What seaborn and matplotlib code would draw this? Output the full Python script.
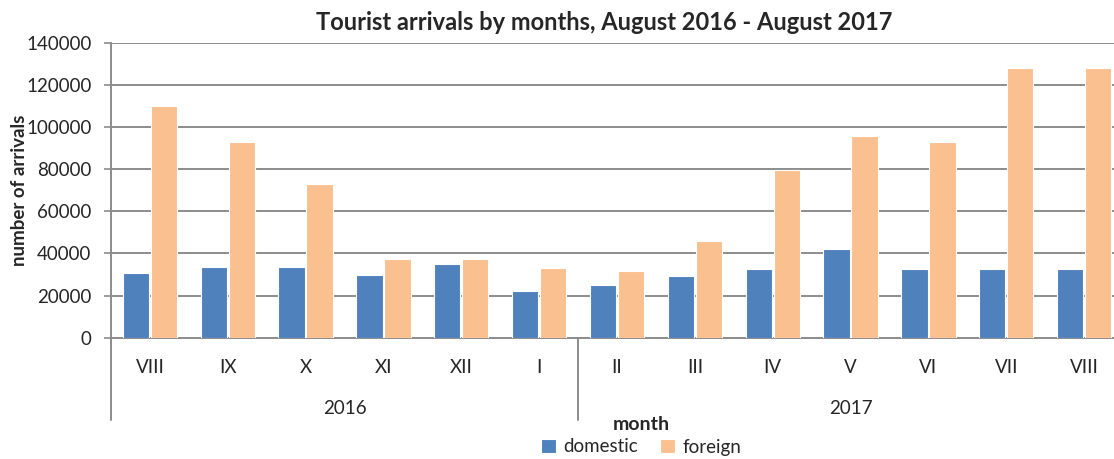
import matplotlib
matplotlib.use("Agg")
import matplotlib.pyplot as plt
import matplotlib.transforms as mtrans
import seaborn as sns
import pandas as pd

months = ["VIII", "IX", "X", "XI", "XII", "I", "II", "III", "IV", "V", "VI", "VII", "VIII"]
years = ["2016", "2016", "2016", "2016", "2016", "2016", "2017", "2017", "2017", "2017", "2017", "2017", "2017"]
domestic = [30500, 33500, 33500, 29700, 35200, 22000, 24800, 29500, 32500, 42000, 32500, 32500, 32500]
foreign = [110000, 93000, 73000, 37200, 37200, 33300, 31500, 45700, 79800, 95800, 93000, 128000, 128000]
series_names = ["domestic", "foreign"]
colors = ["#4F81BD", "#FAC090"]
year_labels = ["2016", "2017"]

keys = [f"{y}-{m}-{i}" for i, (y, m) in enumerate(zip(years, months))]
df = pd.DataFrame({
    "key": keys * 2,
    "series": [series_names[0]] * len(keys) + [series_names[1]] * len(keys),
    "value": domestic + foreign,
})

sns.set_style("white")
plt.rcParams["font.family"] = ["Lato", "DejaVu Sans"]

W, H = 1114, 459
fig = plt.figure(figsize=(W / 100, H / 100), dpi=100)
x0, x1, ytop, ybot = 111, 1123, 42.7, 337.7
ax = fig.add_axes([x0 / W, 1 - ybot / H, (x1 - x0) / W, (ybot - ytop) / H])

sns.barplot(data=df, x="key", y="value", hue="series", order=keys,
            hue_order=series_names, palette=colors, saturation=1, width=0.72, gap=0.06,
            edgecolor="white", linewidth=0.8, ax=ax, legend=True, zorder=3)

ax.set_ylim(0, 140000)
ax.set_yticks(range(0, 140001, 20000))
ax.set_yticklabels([str(v) for v in range(0, 140001, 20000)], fontsize=13.5)
ax.yaxis.grid(True, color="#8c8c8c", linewidth=1.4, zorder=0)
ax.set_axisbelow(True)
ax.tick_params(axis="y", length=5, color="#8c8c8c", width=1.2, pad=9, left=True)
ax.set_xticks(range(len(months)))
ax.set_xticklabels(months, fontsize=13.5)
ax.tick_params(axis="x", length=0, pad=15)
ax.set_xlim(-0.5, len(months) - 0.5)
ax.set_xlabel("")
ax.set_ylabel("number of arrivals", fontsize=13.5, fontweight="bold", labelpad=-1)

for side in ["top", "right"]:
    ax.spines[side].set_visible(False)
for side in ["left", "bottom"]:
    ax.spines[side].set_color("#8c8c8c")
    ax.spines[side].set_linewidth(1.4)

# multi-level category axis lines
trans = mtrans.blended_transform_factory(ax.transData, ax.transAxes)
low = -(420 - ybot) / (ybot - ytop)
ax.plot([-0.5, -0.5], [0, low], transform=trans, color="#8c8c8c", lw=1.4, clip_on=False)
ax.plot([5.5, 5.5], [0, low], transform=trans, color="#8c8c8c", lw=1.4, clip_on=False)
yy = -(408 - ybot) / (ybot - ytop)
ax.text(2.5, yy, year_labels[0], transform=trans, ha="center", va="center", fontsize=13.5)
ax.text(9.0, yy, year_labels[1], transform=trans, ha="center", va="center", fontsize=13.5)

ax.set_title("Tourist arrivals by months, August 2016 - August 2017",
             fontsize=17, fontweight="bold", pad=9, x=(604 - x0) / (x1 - x0))

fig.text(641 / W, 1 - 424 / H, "month", ha="center", va="center",
         fontsize=14, fontweight="bold")

handles, labels = ax.get_legend_handles_labels()
ax.get_legend().remove()
fig.legend(handles, labels, loc="center", bbox_to_anchor=(641 / W, 1 - 447 / H),
           ncol=2, frameon=False, fontsize=13.5, handlelength=0.8, handleheight=0.8,
           handletextpad=0.4, columnspacing=1.2)

fig.savefig("out.png", dpi=100)
